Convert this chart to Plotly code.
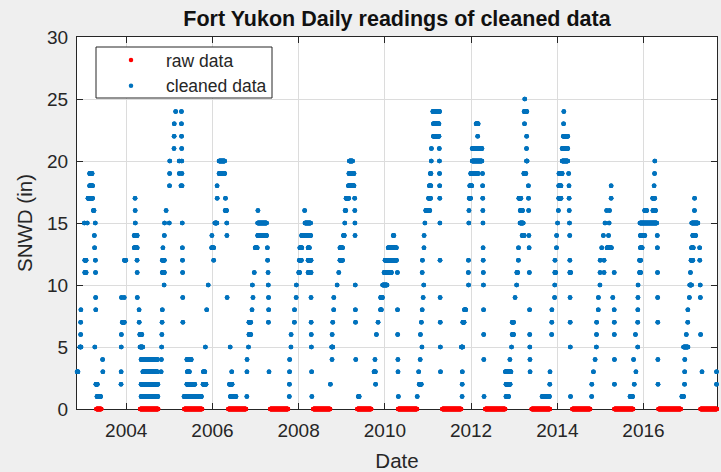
import datetime as dt
import plotly.graph_objects as go

# Fort Yukon snow depth (SNWD, inches).  Each season is stored as runs of
# identical daily readings: (first day, depth, number of consecutive days).
winter_2003 = [
    ("2002-11-10", 3, 10), ("2002-12-04", 5, 12), ("2002-12-10", 6, 3),
    ("2002-12-10", 7, 3), ("2002-12-12", 8, 3), ("2003-01-10", 15, 3),
    ("2003-01-14", 11, 14), ("2003-01-14", 12, 14), ("2003-02-04", 15, 3),
    ("2003-02-10", 17, 42), ("2003-02-24", 18, 28), ("2003-02-24", 19, 24),
    ("2003-03-28", 16, 8), ("2003-04-05", 14, 3), ("2003-04-07", 13, 3),
    ("2003-04-09", 5, 3), ("2003-04-13", 15, 3), ("2003-04-14", 12, 3),
    ("2003-04-15", 11, 3), ("2003-04-16", 9, 3), ("2003-04-17", 8, 3),
    ("2003-04-18", 2, 15), ("2003-04-27", 1, 34), ("2003-06-14", 4, 3),
    ("2003-06-16", 3, 3),
]
winter_2004 = [
    ("2003-11-17", 2, 3), ("2003-11-18", 3, 3), ("2003-11-19", 5, 3),
    ("2003-11-20", 6, 3), ("2003-11-21", 9, 3), ("2003-11-28", 7, 20),
    ("2003-12-14", 9, 3), ("2003-12-16", 12, 14), ("2004-03-08", 13, 28),
    ("2004-03-08", 14, 28), ("2004-03-15", 17, 3), ("2004-03-16", 16, 3),
    ("2004-03-17", 15, 3), ("2004-04-01", 12, 3), ("2004-04-02", 11, 3),
    ("2004-04-03", 9, 3), ("2004-04-18", 8, 3), ("2004-04-19", 7, 3),
    ("2004-04-24", 6, 20), ("2004-04-26", 5, 26), ("2004-05-05", 4, 140),
    ("2004-05-20", 3, 125), ("2004-05-05", 2, 145), ("2004-05-05", 1, 145),
]
winter_2005 = [
    ("2004-10-22", 3, 3), ("2004-10-24", 4, 3), ("2004-10-26", 5, 3),
    ("2004-10-28", 6, 3), ("2004-10-30", 7, 3), ("2004-11-01", 8, 3),
    ("2004-11-01", 11, 20), ("2004-11-01", 12, 20), ("2004-11-06", 13, 3),
    ("2004-11-16", 10, 3), ("2004-11-18", 14, 3), ("2004-11-20", 15, 3),
    ("2004-12-03", 16, 3), ("2004-12-30", 15, 3), ("2005-01-01", 18, 3),
    ("2005-01-02", 19, 3), ("2005-01-03", 20, 3), ("2005-02-08", 21, 3),
    ("2005-02-09", 22, 3), ("2005-02-10", 23, 3), ("2005-02-22", 24, 3),
    ("2005-03-24", 20, 3), ("2005-03-25", 19, 3), ("2005-04-08", 18, 3),
    ("2005-04-12", 24, 3), ("2005-04-12", 23, 3), ("2005-04-13", 22, 3),
    ("2005-04-14", 21, 3), ("2005-04-15", 20, 3), ("2005-04-16", 19, 3),
    ("2005-04-17", 18, 3), ("2005-04-19", 15, 3), ("2005-04-20", 13, 3),
    ("2005-04-21", 12, 3), ("2005-04-22", 11, 3), ("2005-04-23", 9, 3),
    ("2005-04-24", 7, 3), ("2005-05-04", 1, 150), ("2005-05-28", 4, 40),
    ("2005-06-01", 3, 20), ("2005-05-28", 2, 70),
]
winter_2006 = [
    ("2005-10-12", 2, 28), ("2005-10-15", 3, 15), ("2005-11-01", 5, 3),
    ("2005-11-12", 8, 3), ("2005-11-25", 10, 3), ("2005-12-24", 13, 20),
    ("2005-12-26", 14, 3), ("2006-01-10", 12, 3), ("2006-01-20", 15, 20),
    ("2006-02-08", 18, 3), ("2006-02-09", 17, 3), ("2006-02-25", 20, 50),
    ("2006-02-25", 19, 50), ("2006-04-18", 16, 14), ("2006-04-20", 17, 3),
    ("2006-05-01", 15, 3), ("2006-05-02", 14, 3), ("2006-05-04", 9, 3),
    ("2006-05-24", 2, 25), ("2006-05-30", 5, 3), ("2006-06-01", 1, 50),
    ("2006-06-12", 3, 3),
]
winter_2007 = [
    ("2006-10-18", 1, 3), ("2006-10-19", 3, 3), ("2006-10-20", 4, 3),
    ("2006-11-01", 5, 3), ("2006-11-05", 6, 18), ("2006-11-05", 7, 18),
    ("2006-12-01", 8, 3), ("2006-12-04", 10, 3), ("2006-12-09", 9, 3),
    ("2006-12-20", 11, 3), ("2006-12-28", 13, 20), ("2007-01-18", 14, 78),
    ("2007-01-18", 15, 78), ("2007-01-20", 16, 3), ("2007-04-10", 13, 3),
    ("2007-04-12", 12, 3), ("2007-04-16", 11, 3), ("2007-04-18", 10, 3),
    ("2007-04-19", 7, 3), ("2007-04-20", 9, 3), ("2007-04-21", 8, 3),
    ("2007-04-24", 3, 3),
]
winter_2008 = [
    ("2007-10-13", 1, 3), ("2007-10-14", 2, 3), ("2007-10-15", 3, 3),
    ("2007-10-16", 4, 3), ("2007-10-27", 5, 3), ("2007-10-28", 6, 3),
    ("2007-11-25", 7, 3), ("2007-11-26", 8, 3), ("2007-12-10", 9, 3),
    ("2007-12-12", 10, 3), ("2008-01-01", 11, 10), ("2008-01-06", 12, 20),
    ("2008-01-10", 13, 20), ("2008-01-25", 14, 80), ("2008-02-20", 16, 3),
    ("2008-02-23", 15, 50), ("2008-03-20", 13, 14), ("2008-03-20", 12, 28),
    ("2008-03-20", 11, 28), ("2008-04-14", 9, 3), ("2008-04-15", 7, 3),
    ("2008-04-16", 6, 3), ("2008-04-17", 5, 3), ("2008-04-19", 3, 3),
    ("2008-04-21", 1, 3),
]
winter_2009 = [
    ("2008-09-25", 2, 3), ("2008-10-06", 5, 12), ("2008-10-09", 4, 3),
    ("2008-10-10", 6, 3), ("2008-10-15", 7, 3), ("2008-10-23", 8, 3),
    ("2008-10-24", 9, 3), ("2008-11-21", 10, 3), ("2008-12-05", 11, 3),
    ("2008-12-15", 12, 25), ("2008-12-15", 13, 25), ("2009-01-14", 14, 10),
    ("2009-01-25", 15, 3), ("2009-01-28", 16, 8), ("2009-02-05", 17, 25),
    ("2009-02-25", 18, 50), ("2009-03-01", 19, 46), ("2009-03-05", 20, 30),
    ("2009-04-19", 17, 3), ("2009-04-20", 16, 3), ("2009-04-21", 15, 3),
    ("2009-04-22", 14, 3), ("2009-04-24", 10, 3), ("2009-04-25", 8, 3),
    ("2009-04-26", 7, 3), ("2009-04-28", 4, 3), ("2009-05-20", 1, 10),
]
winter_2010 = [
    ("2009-09-30", 3, 14), ("2009-10-08", 4, 3), ("2009-10-13", 2, 3),
    ("2009-10-20", 6, 3), ("2009-11-03", 7, 3), ("2009-11-24", 8, 10),
    ("2009-11-25", 9, 18), ("2009-12-12", 10, 40), ("2009-12-24", 11, 65),
    ("2010-01-01", 12, 100), ("2010-01-28", 13, 72), ("2010-03-12", 14, 8),
    ("2010-04-16", 11, 3), ("2010-04-17", 8, 3), ("2010-04-18", 6, 3),
    ("2010-04-20", 4, 3), ("2010-04-21", 3, 3), ("2010-04-24", 1, 3),
]
winter_2011 = [
    ("2010-10-01", 1, 3), ("2010-10-13", 3, 3), ("2010-10-18", 2, 20),
    ("2010-10-26", 4, 3), ("2010-10-28", 6, 3), ("2010-11-05", 7, 3),
    ("2010-11-10", 5, 3), ("2010-11-12", 8, 3), ("2010-11-12", 11, 3),
    ("2010-11-14", 12, 3), ("2010-11-20", 9, 3), ("2010-11-25", 10, 3),
    ("2010-11-27", 13, 3), ("2010-11-28", 14, 3), ("2010-12-05", 15, 3),
    ("2010-12-12", 16, 37), ("2011-01-05", 17, 20), ("2011-01-12", 18, 15),
    ("2011-01-20", 19, 8), ("2011-01-28", 20, 3), ("2011-01-29", 21, 3),
    ("2011-02-10", 24, 60), ("2011-02-15", 22, 50), ("2011-02-15", 23, 50),
    ("2011-04-06", 21, 3), ("2011-04-07", 20, 3), ("2011-04-08", 19, 3),
    ("2011-04-09", 18, 3), ("2011-04-10", 17, 3), ("2011-04-11", 15, 3),
    ("2011-04-12", 12, 3), ("2011-04-13", 9, 3), ("2011-04-14", 7, 3),
    ("2011-04-15", 5, 3), ("2011-04-16", 3, 3),
]
winter_2012 = [
    ("2011-10-10", 5, 14), ("2011-10-16", 1, 3), ("2011-10-17", 2, 3),
    ("2011-10-18", 3, 3), ("2011-10-22", 7, 14), ("2011-11-05", 8, 14),
    ("2011-12-08", 11, 3), ("2011-12-09", 12, 3), ("2011-12-10", 10, 3),
    ("2011-12-12", 15, 3), ("2011-12-13", 16, 3), ("2011-12-16", 17, 14),
    ("2011-12-20", 18, 20), ("2011-12-28", 19, 65), ("2012-01-10", 20, 85),
    ("2012-01-10", 21, 85), ("2012-02-12", 23, 20), ("2012-02-25", 22, 3),
    ("2012-04-06", 19, 3), ("2012-04-07", 18, 3), ("2012-04-08", 17, 3),
    ("2012-04-09", 16, 3), ("2012-04-10", 15, 3), ("2012-04-11", 13, 3),
    ("2012-04-12", 12, 3), ("2012-04-13", 11, 3), ("2012-04-14", 10, 3),
    ("2012-04-15", 8, 3), ("2012-04-16", 6, 3), ("2012-04-17", 4, 3),
    ("2012-04-19", 1, 3),
]
winter_2013 = [
    ("2012-10-17", 3, 50), ("2012-10-22", 1, 25), ("2012-10-22", 2, 38),
    ("2012-11-24", 4, 3), ("2012-12-08", 5, 3), ("2012-12-14", 6, 14),
    ("2012-12-14", 7, 14), ("2013-01-07", 9, 3), ("2013-01-20", 10, 3),
    ("2013-01-22", 11, 10), ("2013-02-04", 12, 3), ("2013-02-05", 13, 3),
    ("2013-02-08", 17, 20), ("2013-02-18", 15, 30), ("2013-02-20", 16, 22),
    ("2013-03-08", 14, 20), ("2013-03-22", 19, 20), ("2013-03-25", 24, 25),
    ("2013-03-28", 23, 3), ("2013-03-30", 25, 3), ("2013-04-14", 20, 8),
    ("2013-04-14", 21, 3), ("2013-04-15", 22, 3), ("2013-04-30", 18, 3),
    ("2013-05-01", 17, 3), ("2013-05-02", 16, 3), ("2013-05-04", 14, 3),
    ("2013-05-06", 13, 3), ("2013-05-08", 11, 3), ("2013-05-10", 8, 3),
    ("2013-05-11", 6, 3), ("2013-05-12", 5, 3), ("2013-05-13", 4, 3),
    ("2013-05-14", 3, 3), ("2013-08-24", 1, 65),
]
winter_2014 = [
    ("2013-10-28", 2, 3), ("2013-10-30", 3, 3), ("2013-11-13", 6, 3),
    ("2013-11-14", 7, 3), ("2013-11-15", 8, 3), ("2013-12-08", 9, 3),
    ("2013-12-09", 10, 3), ("2013-12-10", 11, 10), ("2013-12-11", 12, 3),
    ("2013-12-24", 13, 3), ("2013-12-25", 14, 3), ("2014-01-02", 15, 3),
    ("2014-01-09", 16, 3), ("2014-01-12", 17, 22), ("2014-01-12", 18, 22),
    ("2014-01-14", 19, 30), ("2014-02-10", 20, 50), ("2014-02-10", 21, 50),
    ("2014-02-20", 22, 40), ("2014-02-22", 23, 3), ("2014-02-24", 24, 3),
    ("2014-04-06", 19, 3), ("2014-04-09", 18, 3), ("2014-04-10", 17, 3),
    ("2014-04-11", 16, 3), ("2014-04-13", 15, 3), ("2014-04-15", 14, 3),
    ("2014-04-16", 12, 3), ("2014-04-16", 11, 10), ("2014-04-18", 9, 3),
    ("2014-04-19", 7, 3), ("2014-04-20", 5, 3), ("2014-04-22", 1, 3),
]
winter_2015 = [
    ("2014-10-18", 1, 3), ("2014-10-19", 2, 3), ("2014-11-02", 3, 3),
    ("2014-11-16", 4, 3), ("2014-11-27", 5, 3), ("2014-11-28", 6, 3),
    ("2014-11-29", 7, 3), ("2014-12-13", 8, 3), ("2014-12-14", 9, 3),
    ("2014-12-27", 10, 3), ("2014-12-28", 11, 3), ("2014-12-29", 12, 3),
    ("2015-01-11", 13, 3), ("2015-01-25", 14, 3), ("2015-01-31", 12, 3),
    ("2015-01-31", 11, 3), ("2015-02-08", 15, 3), ("2015-02-22", 16, 3),
    ("2015-02-25", 13, 40), ("2015-03-10", 14, 3), ("2015-03-15", 15, 3),
    ("2015-03-18", 16, 3), ("2015-04-01", 17, 3), ("2015-04-01", 18, 3),
    ("2015-04-15", 9, 3), ("2015-04-27", 11, 3), ("2015-04-27", 8, 3),
    ("2015-04-28", 7, 3), ("2015-04-28", 6, 3), ("2015-04-29", 4, 3),
    ("2015-04-29", 2, 3),
]
winter_2016 = [
    ("2015-09-08", 1, 25), ("2015-10-08", 4, 3), ("2015-10-14", 2, 3),
    ("2015-10-24", 6, 3), ("2015-10-28", 3, 3), ("2015-11-12", 5, 3),
    ("2015-11-12", 7, 3), ("2015-11-13", 8, 3), ("2015-11-14", 9, 3),
    ("2015-11-15", 10, 3), ("2015-11-28", 11, 12), ("2015-11-28", 12, 12),
    ("2015-12-01", 15, 145), ("2015-12-05", 13, 18), ("2015-12-05", 14, 40),
    ("2016-01-10", 16, 20), ("2016-03-18", 17, 20), ("2016-03-20", 16, 25),
    ("2016-03-30", 18, 3), ("2016-04-03", 19, 3), ("2016-04-05", 20, 3),
    ("2016-04-26", 14, 3), ("2016-04-27", 13, 3), ("2016-04-28", 11, 3),
    ("2016-04-29", 9, 3), ("2016-04-30", 7, 3), ("2016-05-01", 4, 3),
    ("2016-05-02", 2, 3),
]
winter_2017 = [
    ("2016-11-20", 1, 18), ("2016-12-05", 5, 40), ("2016-12-13", 2, 3),
    ("2016-12-14", 3, 3), ("2016-12-15", 4, 3), ("2016-12-28", 6, 3),
    ("2017-01-09", 7, 3), ("2017-01-10", 8, 3), ("2017-01-23", 9, 3),
    ("2017-01-26", 10, 18), ("2017-02-01", 11, 3), ("2017-02-06", 12, 18),
    ("2017-02-10", 13, 18), ("2017-02-12", 15, 55), ("2017-02-20", 14, 28),
    ("2017-03-07", 16, 3), ("2017-03-08", 17, 3), ("2017-04-20", 13, 3),
    ("2017-04-21", 12, 3), ("2017-04-25", 10, 3), ("2017-04-26", 9, 3),
    ("2017-04-28", 6, 3), ("2017-05-10", 3, 3), ("2017-09-10", 3, 3),
    ("2017-09-10", 2, 3),
]

# Raw summer readings of zero depth: (first day, number of days)
summer_zero_runs = [
    ("2003-04-23", 43), ("2004-04-28", 154), ("2005-05-07", 152),
    ("2006-05-15", 151), ("2007-05-05", 152), ("2008-05-04", 144),
    ("2009-05-12", 119), ("2010-04-23", 161), ("2011-05-02", 161),
    ("2012-04-30", 170), ("2013-05-28", 156), ("2014-05-08", 152),
    ("2015-04-29", 160), ("2016-05-07", 190), ("2017-04-28", 140),
]

seasons = [winter_2003, winter_2004, winter_2005, winter_2006, winter_2007,
           winter_2008, winter_2009, winter_2010, winter_2011, winter_2012,
           winter_2013, winter_2014, winter_2015, winter_2016, winter_2017]

year_ticks = [2004, 2006, 2008, 2010, 2012, 2014, 2016]
depth_ticks = [0, 5, 10, 15, 20, 25, 30]
date_limits = ["2002-11-10", "2017-09-15"]


def expand(runs):
    """Turn (start, depth, days) runs into one reading per day."""
    xs, ys = [], []
    for start, depth, days in runs:
        d0 = dt.date.fromisoformat(start)
        for k in range(days):
            xs.append(d0 + dt.timedelta(days=k))
            ys.append(depth)
    return xs, ys


clean_x, clean_y = [], []
for season in seasons:
    sx, sy = expand(season)
    clean_x += sx
    clean_y += sy

raw_x, raw_y = expand([(s, 0, n) for s, n in summer_zero_runs])

ink = "#262626"
font = "Liberation Sans, Arial, Helvetica, sans-serif"

# plot area in pixels: left 77, right 717, top 37, bottom 409
W, H = 721, 472
L, R, T, B = 77, 717, 37, 409


def px_x(p):
    return (p - L) / (R - L)


def px_y(p):
    return (B - p) / (B - T)


fig = go.Figure()
fig.add_trace(go.Scatter(
    x=raw_x, y=raw_y, mode="markers", name="raw data",
    marker=dict(color="#FF0000", size=4.5, line=dict(width=0)),
    cliponaxis=False,
))
fig.add_trace(go.Scatter(
    x=clean_x, y=clean_y, mode="markers", name="cleaned data",
    marker=dict(color="#0072BD", size=4.5, line=dict(width=0)),
    cliponaxis=False,
))

axis_style = dict(
    showline=True, linecolor=ink, linewidth=1, mirror="allticks",
    ticks="inside", ticklen=6, tickwidth=1, tickcolor=ink,
    showgrid=True, gridcolor="#dcdcdc", gridwidth=1,
    zeroline=False, layer="below traces",
    tickfont=dict(family=font, size=19, color=ink),
)

fig.update_layout(
    width=W, height=H,
    margin=dict(l=L, r=W - R, t=T, b=H - B),
    paper_bgcolor="#efefef", plot_bgcolor="white",
    font=dict(family=font, color=ink),
    title=dict(
        text="<b>Fort Yukon Daily readings of cleaned data</b>",
        x=0.5, xref="paper", xanchor="center",
        y=1 - 18.5 / H, yref="container", yanchor="middle",
        font=dict(family=font, size=21.5, color="#111111"),
    ),
    xaxis=dict(
        type="date", range=date_limits,
        tickvals=[f"{y}-01-01" for y in year_ticks],
        ticktext=[str(y) for y in year_ticks],
        ticklabelstandoff=4,
        title=dict(text="Date", font=dict(family=font, size=20.5, color=ink),
                   standoff=14),
        **axis_style,
    ),
    yaxis=dict(
        range=[0, 30], tickvals=depth_ticks,
        ticklabelstandoff=4,
        title=dict(text="SNWD (in)", font=dict(family=font, size=20.5, color=ink),
                   standoff=8),
        **axis_style,
    ),
    legend=dict(
        x=px_x(96), y=px_y(42), xanchor="left", yanchor="top",
        bgcolor="rgba(0,0,0,0)", borderwidth=0,
        font=dict(family=font, size=17.5, color=ink),
        itemwidth=60,
    ),
    shapes=[dict(
        type="rect", xref="paper", yref="paper", layer="above",
        x0=px_x(96), x1=px_x(272), y0=px_y(98), y1=px_y(47),
        fillcolor="white", line=dict(color=ink, width=1),
    )],
    showlegend=True,
)

fig.write_html("out.html")
